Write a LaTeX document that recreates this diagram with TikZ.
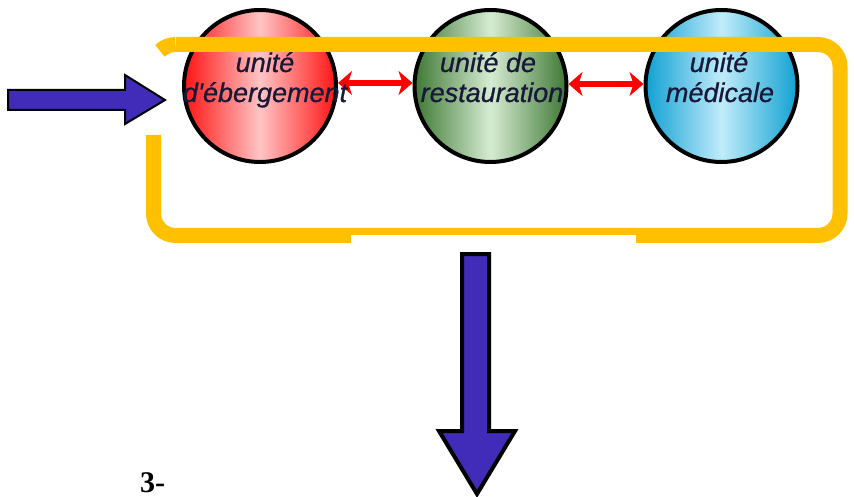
\documentclass[tikz,border=0pt]{standalone}
\usepackage{fontspec}
\newfontfamily\labfont{Liberation Sans Italic}[FakeBold=0.7]
\newfontfamily\numfont{Liberation Serif}
\usetikzlibrary{arrows.meta}
\definecolor{frameyellow}{RGB}{255,192,0}
\definecolor{arrowblue}{RGB}{64,44,184}
\definecolor{txtdark}{RGB}{24,24,56}
\definecolor{redside}{RGB}{255,20,20}
\definecolor{redmid}{RGB}{255,196,196}
\definecolor{greenside}{RGB}{62,120,52}
\definecolor{greenmid}{RGB}{214,236,210}
\definecolor{blueside}{RGB}{16,160,210}
\definecolor{bluemid}{RGB}{192,236,250}
\tikzset{
  unitnode/.style={circle, draw=black, line width=4pt, minimum size=152pt, inner sep=0pt},
  unitlabel/.style={font=\labfont\fontsize{27}{31}\selectfont, text=txtdark, anchor=base, inner sep=0pt},
  linkarrow/.style={draw=red, line width=6pt, {Stealth[length=14pt,width=24pt,inset=4pt]}-{Stealth[length=14pt,width=24pt,inset=4pt]}},
  frameline/.style={draw=frameyellow, line width=15pt},
  bigarrow/.style={fill=arrowblue, draw=black, line join=miter},
}
\begin{document}
\begin{tikzpicture}[x=1pt,y=1pt]
\useasboundingbox (0,0) rectangle (854,-497);

% circles
\node[unitnode, left color=redside, right color=redside, middle color=redmid] (heb) at (260,-86) {};
\node[unitnode, left color=greenside, right color=greenside, middle color=greenmid] (rest) at (490.5,-86) {};
\node[unitnode, left color=blueside, right color=blueside, middle color=bluemid] (med) at (721.5,-86) {};

% red links
\draw[linkarrow] ([yshift=3pt]heb.east) -- ([yshift=3pt]rest.west);
\draw[linkarrow] ([yshift=2pt]rest.east) -- ([yshift=2pt]med.west);

% labels
\node[unitlabel] (heb1) at (265,-72) {unité};
\node[unitlabel] (heb2) at (265,-102) {d'ébergement};
\node[unitlabel] (rest1) at (488,-72) {unité de};
\node[unitlabel] (rest2) at (492,-102) {restauration};
\node[unitlabel] (med1) at (719,-72) {unité};
\node[unitlabel] (med2) at (720,-102) {médicale};

% yellow frame
\draw[frameline, rounded corners=22pt] (153.5,-135) -- (153.5,-235.5) -- (840,-235.5) -- (840,-44.5) -- (175.5,-44.5);
\draw[frameline] (175.5,-44.5) arc[start angle=90, end angle=135, radius=22pt];
\fill[white] (351,-235.5) rectangle (636,-245);

% input arrow
\draw[bigarrow, line width=2pt] (8,-90) -- (125,-90) -- (125,-75) -- (165,-100) -- (125,-124) -- (125,-110) -- (8,-110) -- cycle;

% output arrow
\draw[bigarrow, line width=4pt] (462,-254) -- (489,-254) -- (489,-431) -- (515,-431) -- (477,-494) -- (439,-431) -- (462,-431) -- cycle;

% caption
\node[font=\numfont\bfseries\fontsize{30}{34}\selectfont, anchor=base west, inner sep=0pt] (num) at (140,-492) {3-};
\end{tikzpicture}
\end{document}
